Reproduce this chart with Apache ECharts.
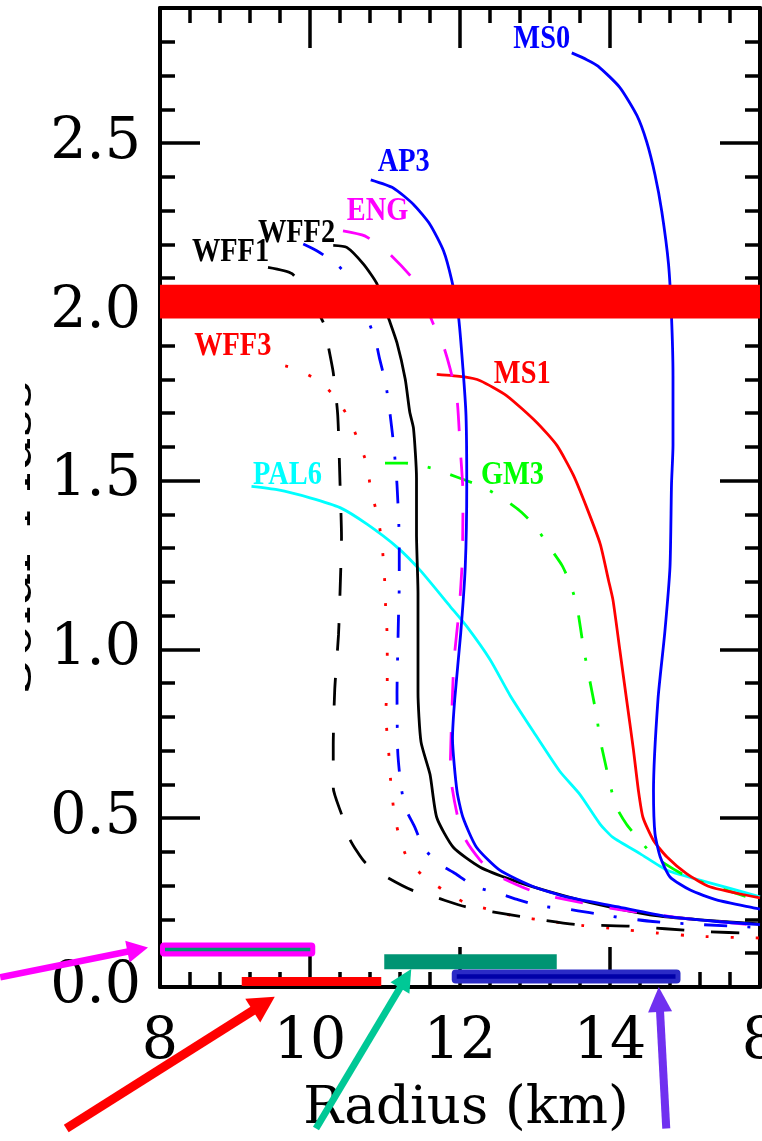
<!DOCTYPE html>
<html>
<head>
<meta charset="utf-8">
<script src="https://cdn.jsdelivr.net/npm/echarts@6/dist/echarts.min.js"></script>
<style>
  html, body { margin: 0; padding: 0; background: #ffffff; }
  #chart { width: 762px; height: 1141px; }
</style>
</head>
<body>
<div id="chart"></div>
<script>
// Mass–radius relations for a set of neutron-star equations of state.
// Each curve is a list of [radius (km), mass (solar masses)] pairs.

const radiusTicks = [8, 10, 12, 14, 16];
const massTicks = [0.0, 0.5, 1.0, 1.5, 2.0, 2.5];

const MS0 = [[13.49,2.767],[13.69,2.747],[13.84,2.728],[14.13,2.665],[14.36,2.581],[14.49,2.503],[14.60,2.406],[14.69,2.298],[14.78,2.142],[14.82,1.986],[14.84,1.810],[14.84,1.605],[14.82,1.488],[14.80,1.245],[14.73,1.049],[14.64,0.853],[14.58,0.580],[14.60,0.454],[14.67,0.385],[14.80,0.326],[15.07,0.287],[15.42,0.258],[15.93,0.234],[16.0,0.231]];
const AP3 = [[10.81,2.391],[11.11,2.367],[11.38,2.318],[11.60,2.259],[11.78,2.181],[11.89,2.093],[11.98,1.986],[12.04,1.830],[12.08,1.693],[12.09,1.488],[12.07,1.245],[12.01,1.049],[11.93,0.853],[11.90,0.736],[11.96,0.580],[12.04,0.502],[12.22,0.414],[12.53,0.346],[12.98,0.297],[13.42,0.267],[14.09,0.238],[14.76,0.209],[15.42,0.194],[16.0,0.185]];
const ENG = [[10.44,2.240],[10.73,2.225],[11.04,2.176],[11.42,2.084],[11.64,1.966],[11.78,1.898],[11.87,1.830],[11.96,1.742],[12.00,1.605],[12.04,1.459],[12.03,1.263],[11.99,1.122],[11.92,0.967],[11.89,0.805],[11.87,0.639],[11.96,0.513],[12.07,0.438],[12.27,0.375],[12.44,0.337],[12.93,0.287],[13.24,0.267],[14.0,0.234],[14.93,0.205],[16.0,0.182]];
const WFF2 = [[10.31,2.197],[10.49,2.191],[10.71,2.142],[10.89,2.084],[11.04,1.986],[11.16,1.908],[11.27,1.800],[11.33,1.703],[11.38,1.655],[11.42,1.508],[11.42,1.342],[11.44,1.166],[11.44,0.873],[11.48,0.726],[11.60,0.630],[11.69,0.502],[11.91,0.414],[12.27,0.355],[12.71,0.316],[13.20,0.282],[13.87,0.243],[14.53,0.214],[15.20,0.199],[16.0,0.187]];
const AP4 = [[9.91,2.201],[10.09,2.181],[10.35,2.142],[10.56,2.091],[10.73,2.0],[10.87,1.918],[10.93,1.859],[11.01,1.786],[11.07,1.693],[11.12,1.596],[11.16,1.488],[11.19,1.321],[11.19,1.189],[11.18,1.098],[11.17,0.996],[11.16,0.873],[11.17,0.697],[11.21,0.600],[11.27,0.531],[11.40,0.472],[11.51,0.414],[11.71,0.366],[11.93,0.337],[12.20,0.297],[12.51,0.278],[12.78,0.258],[13.07,0.240],[13.42,0.231],[13.73,0.220],[14.13,0.206],[14.57,0.194],[15.20,0.185],[16.0,0.176]];
const WFF1 = [[9.44,2.132],[9.76,2.113],[10.03,2.030],[10.20,1.957],[10.24,1.903],[10.31,1.820],[10.37,1.693],[10.40,1.494],[10.42,1.333],[10.40,1.166],[10.38,1.043],[10.33,0.882],[10.31,0.715],[10.31,0.590],[10.42,0.512],[10.53,0.438],[10.73,0.370],[11.02,0.326],[11.36,0.287],[11.71,0.263],[12.07,0.238],[12.80,0.209],[13.56,0.185],[14.27,0.180],[15.20,0.165],[16.0,0.158]];
const WFF3 = [[9.67,1.840],[9.82,1.830],[10.11,1.796],[10.36,1.742],[10.52,1.683],[10.65,1.615],[10.76,1.547],[10.81,1.473],[10.89,1.405],[10.95,1.332],[10.98,1.259],[11.0,1.185],[11.01,1.112],[11.03,1.034],[11.03,0.888],[11.01,0.815],[11.03,0.741],[11.06,0.668],[11.08,0.595],[11.12,0.521],[11.18,0.454],[11.29,0.385],[11.51,0.328],[11.78,0.287],[12.07,0.249],[12.40,0.229],[12.71,0.211],[13.22,0.194],[13.64,0.182],[14.09,0.172],[14.62,0.160],[15.20,0.150],[16.0,0.145]];
const MS1 = [[11.69,1.815],[12.04,1.808],[12.27,1.796],[12.62,1.752],[13.02,1.673],[13.29,1.605],[13.51,1.517],[13.69,1.420],[13.87,1.312],[13.98,1.205],[14.04,1.146],[14.13,1.0],[14.22,0.853],[14.31,0.707],[14.38,0.580],[14.44,0.502],[14.58,0.434],[14.76,0.385],[15.02,0.336],[15.33,0.297],[16.0,0.264]];
const GM3 = [[11.0,1.552],[11.27,1.552],[11.62,1.537],[11.82,1.522],[12.11,1.498],[12.29,1.483],[12.56,1.449],[12.80,1.410],[13.0,1.366],[13.18,1.307],[13.36,1.249],[13.47,1.195],[13.56,1.127],[13.65,1.0],[13.71,0.931],[13.82,0.805],[13.87,0.731],[14.07,0.541],[14.22,0.482],[14.40,0.434],[14.60,0.385],[15.04,0.326],[16.0,0.255]];
const PAL6 = [[9.22,1.483],[9.56,1.473],[10.0,1.449],[10.40,1.420],[10.76,1.371],[11.16,1.303],[11.47,1.234],[11.87,1.127],[12.09,1.068],[12.40,0.970],[12.67,0.863],[12.98,0.756],[13.33,0.639],[13.60,0.570],[13.87,0.482],[14.04,0.443],[14.40,0.395],[14.76,0.346],[15.16,0.319],[15.60,0.292],[16.0,0.267]];

// Measured maximum-mass band (solar masses)
const massBand = [1.98, 2.08];

// Radius constraints: [R min, R max] and the mass level each bar is drawn at
const barRanges = [[8.0, 10.07], [9.09, 10.95], [10.99, 13.29], [11.89, 14.94]];
const barMass = [0.111, 0.016, 0.075, 0.031];

// ---- styling ----
const DASHED = [28, 27];
const DOTTED = [3, 22];
const DASHDOT = [23, 20, 3, 21];

const curves = [
  { name: 'PAL6', data: PAL6, color: '#00ffff', dash: 'solid', labelAt: [9.70, 1.514] },
  { name: 'GM3',  data: GM3,  color: '#00ff00', dash: DASHDOT, labelAt: [12.70, 1.516] },
  { name: 'MS1',  data: MS1,  color: '#ff0000', dash: 'solid', labelAt: [12.83, 1.814] },
  { name: 'WFF3', data: WFF3, color: '#ff0000', dash: DOTTED,  labelAt: [8.97, 1.898] },
  { name: 'WFF1', data: WFF1, color: '#000000', dash: DASHED,  labelAt: [8.94, 2.176] },
  { name: 'AP4',  data: AP4,  color: '#0000ff', dash: DASHDOT, labelAt: [10.60, 2.009] },
  { name: 'WFF2', data: WFF2, color: '#000000', dash: 'solid', labelAt: [9.82, 2.232] },
  { name: 'ENG',  data: ENG,  color: '#ff00ff', dash: DASHED,  labelAt: [10.90, 2.296] },
  { name: 'AP3',  data: AP3,  color: '#0000ff', dash: 'solid', labelAt: [11.25, 2.443] },
  { name: 'MS0',  data: MS0,  color: '#0000ff', dash: 'solid', labelAt: [13.09, 2.806] }
];

// arrows pointing at the radius bars (tail -> tip, in axis units)
const arrows = [
  { from: [5.87, 0.029],  to: [7.84, 0.117],  color: '#ff00ff', width: 6.5, head: [21, 11] },
  { from: [6.75, -0.419], to: [9.53, -0.029], color: '#ff0000', width: 9,   head: [26, 14] },
  { from: [10.08, -0.419], to: [11.35, 0.053], color: '#00c896', width: 7,  head: [22, 11] },
  { from: [14.75, -0.419], to: [14.65, 0.0],  color: '#7030f0', width: 8,   head: [25, 12] }
];

const TICK_FONT = '"DejaVu Serif", serif';
const TITLE_FONT = '"DejaVu Serif", serif';
const TICK_SIZE = 57;

const chart = echarts.init(document.getElementById('chart'), null, { renderer: 'canvas' });

function axisBase(showLabels) {
  return {
    type: 'value',
    axisLine: { show: true, onZero: false, lineStyle: { color: '#000', width: 4 } },
    axisTick: { show: true, inside: true, length: 40, lineStyle: { color: '#000', width: 3.5 } },
    minorTick: { show: true, splitNumber: 5, length: 15, lineStyle: { color: '#000', width: 3.5 } },
    splitLine: { show: false },
    minorSplitLine: { show: false },
    axisLabel: { show: showLabels }
  };
}

const isMajor = (v, step) => Math.abs(v / step - Math.round(v / step)) < 1e-6;

const xBottom = Object.assign(axisBase(true), {
  position: 'bottom', min: radiusTicks[0], max: radiusTicks[radiusTicks.length - 1], interval: 2,
  axisLabel: {
    show: true, margin: 28, color: '#000', fontFamily: TICK_FONT, fontSize: TICK_SIZE,
    showMaxLabel: false,
    formatter: v => (v < radiusTicks[radiusTicks.length - 1] ? String(v) : '')
  },
  name: 'Radius (km)', nameLocation: 'middle', nameGap: 96,
  nameTextStyle: { color: '#000', fontFamily: TITLE_FONT, fontSize: 53, padding: [0, 0, 0, 12] }
});
const xTop = Object.assign(axisBase(false), {
  position: 'top', min: radiusTicks[0], max: radiusTicks[radiusTicks.length - 1], interval: 2
});
const yLeft = Object.assign(axisBase(true), {
  position: 'left', min: 0, max: 2.9, interval: 0.5,
  axisLabel: {
    show: true, margin: 19, color: '#000', fontFamily: TICK_FONT, fontSize: TICK_SIZE,
    formatter: v => (isMajor(v, 0.5) && massTicks.some(t => Math.abs(t - v) < 1e-6) ? v.toFixed(1) : '')
  }
});
const yRight = Object.assign(axisBase(false), {
  position: 'right', min: 0, max: 2.9, interval: 0.5
});

const lineSeries = curves.map(c => ({
  name: c.name,
  type: 'line',
  data: c.data,
  showSymbol: false,
  symbol: 'none',
  clip: true,
  smooth: 0.2,
  z: 3,
  lineStyle: { color: c.color, width: 2.8, type: c.dash, cap: 'butt', join: 'round' },
  emphasis: { disabled: true }
}));

const bandSeries = {
  name: 'band',
  type: 'custom',
  z: 6,
  data: [[radiusTicks[0], radiusTicks[radiusTicks.length - 1], massBand[0], massBand[1]]],
  renderItem: (params, api) => {
    const p0 = api.coord([api.value(0), api.value(3)]);
    const p1 = api.coord([api.value(1), api.value(2)]);
    return { type: 'rect', shape: { x: p0[0], y: p0[1], width: p1[0] - p0[0], height: p1[1] - p0[1] },
             style: { fill: '#ff0000' } };
  }
};

// appearance of each radius bar: outer colour / height, optional inner stripe
const barLooks = [
  { fill: '#ff00ff', h: 14, r: 4, inner: '#009473', ih: 3.5 },
  { fill: '#ff0000', h: 9,  r: 0 },
  { fill: '#009473', h: 15, r: 0 },
  { fill: '#2b2bc6', h: 14, r: 4, inner: '#0000a8', ih: 4.5 }
];

const barSeries = {
  name: 'radius bars',
  type: 'custom',
  z: 7,
  clip: false,
  data: barRanges.map((r, i) => [r[0], r[1], barMass[i]]),
  renderItem: (params, api) => {
    const look = barLooks[params.dataIndex];
    const a = api.coord([api.value(0), api.value(2)]);
    const b = api.coord([api.value(1), api.value(2)]);
    const children = [{
      type: 'rect',
      shape: { x: a[0], y: a[1] - look.h / 2, width: b[0] - a[0], height: look.h, r: look.r },
      style: { fill: look.fill }
    }];
    if (look.inner) {
      children.push({
        type: 'rect',
        shape: { x: a[0] + 5, y: a[1] - look.ih / 2, width: b[0] - a[0] - 10, height: look.ih },
        style: { fill: look.inner }
      });
    }
    return { type: 'group', children };
  }
};

chart.setOption({
  animation: false,
  backgroundColor: '#ffffff',
  grid: { left: 160, top: 8, width: 600, height: 990, containLabel: false },
  xAxis: [xBottom, xTop],
  yAxis: [yLeft, yRight],
  series: [...lineSeries, bandSeries, barSeries]
});

// ---- overlays positioned through the axes ----
function toPx(p) { return chart.convertToPixel({ xAxisIndex: 0, yAxisIndex: 0 }, p); }

const graphics = [];

curves.forEach(c => {
  const p = toPx(c.labelAt);
  graphics.push({
    type: 'text', x: p[0], y: p[1], scaleX: 0.86, z: c.name === 'AP4' ? 1 : 50,
    style: { text: c.name, fill: c.color, font: 'bold 33px "Liberation Serif"', align: 'center', verticalAlign: 'middle' }
  });
});

arrows.forEach(a => {
  const s = toPx(a.from), t = toPx(a.to);
  const dx = t[0] - s[0], dy = t[1] - s[1];
  const len = Math.hypot(dx, dy);
  const ux = dx / len, uy = dy / len;
  const nx = -uy, ny = ux;
  const [hl, hw] = a.head;
  const bx = t[0] - ux * hl, by = t[1] - uy * hl;
  graphics.push({
    type: 'line', z: 60,
    shape: { x1: s[0], y1: s[1], x2: bx + ux * 2, y2: by + uy * 2 },
    style: { stroke: a.color, lineWidth: a.width }
  });
  graphics.push({
    type: 'polygon', z: 60,
    shape: { points: [[t[0], t[1]], [bx + nx * hw, by + ny * hw], [bx - nx * hw, by - ny * hw]] },
    style: { fill: a.color }
  });
});

// neighbouring panel's first radius label at the shared edge
const edge = toPx([radiusTicks[radiusTicks.length - 1], 0]);
graphics.push({
  type: 'text', x: edge[0], y: edge[1] + 28, z: 50,
  style: { text: '8', fill: '#000', font: TICK_SIZE + 'px ' + TICK_FONT, align: 'center', verticalAlign: 'top' }
});

// vertical axis title; only a narrow strip of it shows at the left edge
const mid = toPx([radiusTicks[0], 1.33]);
graphics.push({
  type: 'text', x: 15, y: mid[1], rotation: Math.PI / 2, z: 50,
  style: { text: 'Solar Mass', fill: '#000', font: '56px ' + TITLE_FONT, align: 'center', verticalAlign: 'middle' }
});
graphics.push({
  type: 'rect', z: 51,
  shape: { x: 0, y: mid[1] - 220, width: 25, height: 440 },
  style: { fill: '#ffffff' }
});

chart.setOption({ graphic: graphics });
</script>
</body>
</html>
